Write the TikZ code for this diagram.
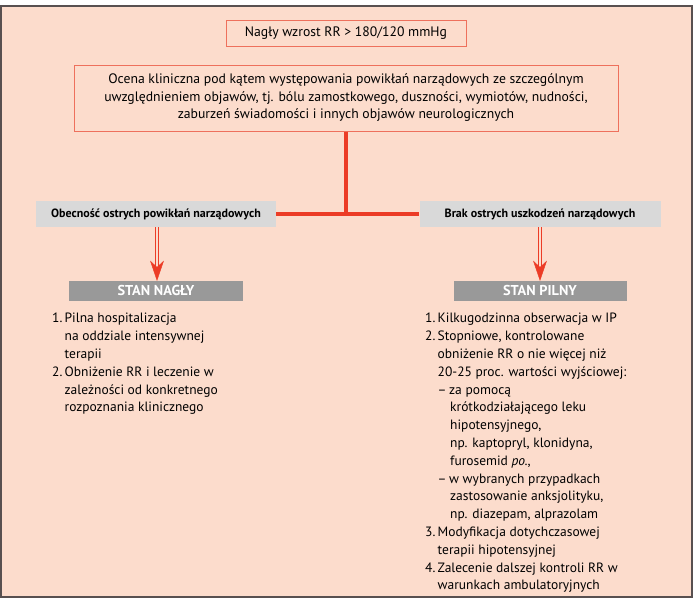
\documentclass[tikz,border=0pt]{standalone}
\usepackage{fontspec}
\setmainfont{PT Sans}
\usetikzlibrary{arrows.meta}
\definecolor{bgc}{RGB}{252,220,204}
\definecolor{boxc}{RGB}{238,112,92}
\definecolor{redc}{RGB}{236,60,38}
\definecolor{lgc}{RGB}{217,217,217}
\definecolor{dgc}{RGB}{153,153,153}
\definecolor{framec}{RGB}{88,80,80}
\tikzset{
  pinkbox/.style={draw=boxc, line width=1pt, fill=bgc, align=center, inner sep=0pt, font=\fontsize{13.7}{17.5}\selectfont},
  greybox/.style={fill=lgc, inner sep=0pt, font=\bfseries\fontsize{12}{14}\selectfont},
  statebox/.style={fill=dgc, inner sep=0pt, text=white, font=\bfseries\fontsize{14.3}{16}\selectfont},
  redline/.style={draw=redc, line width=4.6pt},
  dline/.style={draw=redc, line width=0.8pt, double=bgc, double distance=2pt},
  ahead/.style={fill=redc, draw=redc, line width=0.4pt, line join=miter},
  listtext/.style={anchor=north west, inner sep=0pt, align=left, font=\fontsize{13.5}{17.8}\selectfont},
}
\newcommand{\nb}[1]{\makebox[12.5pt][l]{#1}}
\newcommand{\ind}{\hspace*{12.5pt}}
\newcommand{\db}{\makebox[11.5pt][l]{–}}
\begin{document}
\begin{tikzpicture}[x=1pt,y=-1pt]
\useasboundingbox (0,0) rectangle (693,600);
\fill[white] (0,0) rectangle (693,600);
\draw[framec, line width=2pt, fill=bgc] (1,6) rectangle (692,597);

\node[pinkbox, minimum width=240pt, minimum height=26pt] (top) at (346,33.5) {Nagły wzrost RR > 180/120 mmHg};
\node[pinkbox, minimum width=544pt, minimum height=66pt] (assess) at (346,98)
  {Ocena kliniczna pod kątem występowania powikłań narządowych ze szczególnym\\
   uwzględnieniem objawów, tj. bólu zamostkowego, duszności, wymiotów, nudności,\\
   zaburzeń świadomości i innych objawów neurologicznych};

\node[greybox, minimum width=240pt, minimum height=26pt] (lg) at (156,214) {Obecność ostrych powikłań narządowych};
\node[greybox, minimum width=241pt, minimum height=26pt] (rg) at (540,214) {Brak ostrych uszkodzeń narządowych};

\node[statebox, minimum width=174pt, minimum height=20pt] (sn) at (156,290.5) {STAN NAGŁY};
\node[statebox, minimum width=173pt, minimum height=20pt] (sp) at (540,290.5) {STAN PILNY};

\coordinate (j) at (assess.south |- lg.east);
\draw[redline] (assess.south) -- (j);
\draw[redline] (lg.east) -- (rg.west);

\coordinate (snt) at ([xshift=1pt]sn.north);
\coordinate (spt) at (sp.north);
\draw[dline, shorten >=14pt] ([xshift=1pt]lg.south) -- (snt);
\draw[dline, shorten >=14pt] (rg.south) -- (spt);
\path[ahead] ([xshift=-6.5pt,yshift=19pt]snt) -- (snt) -- ([xshift=6.5pt,yshift=19pt]snt) -- ([yshift=13pt]snt) -- cycle;
\path[ahead] ([xshift=-6.5pt,yshift=19pt]spt) -- (spt) -- ([xshift=6.5pt,yshift=19pt]spt) -- ([yshift=13pt]spt) -- cycle;

\node[listtext] (llist) at (52,313) {%
\nb{1.}Pilna hospitalizacja\\
\ind na oddziale intensywnej\\
\ind terapii\\
\nb{2.}Obniżenie RR i leczenie w\\
\ind zależności od konkretnego\\
\ind rozpoznania klinicznego};

\node[listtext] (rlist) at (425,313) {%
\nb{1.}Kilkugodzinna obserwacja w IP\\
\nb{2.}Stopniowe, kontrolowane\\
\ind obniżenie RR o nie więcej niż\\
\ind 20-25 proc. wartości wyjściowej:\\
\ind\db za pomocą\\
\ind\ind krótkodziałającego leku\\
\ind\ind hipotensyjnego,\\
\ind\ind np. kaptopryl, klonidyna,\\
\ind\ind furosemid \textit{po.},\\
\ind\db w wybranych przypadkach\\
\ind\ind zastosowanie anksjolityku,\\
\ind\ind np. diazepam, alprazolam\\
\nb{3.}Modyfikacja dotychczasowej\\
\ind terapii hipotensyjnej\\
\nb{4.}Zalecenie dalszej kontroli RR w\\
\ind warunkach ambulatoryjnych};
\end{tikzpicture}
\end{document}
